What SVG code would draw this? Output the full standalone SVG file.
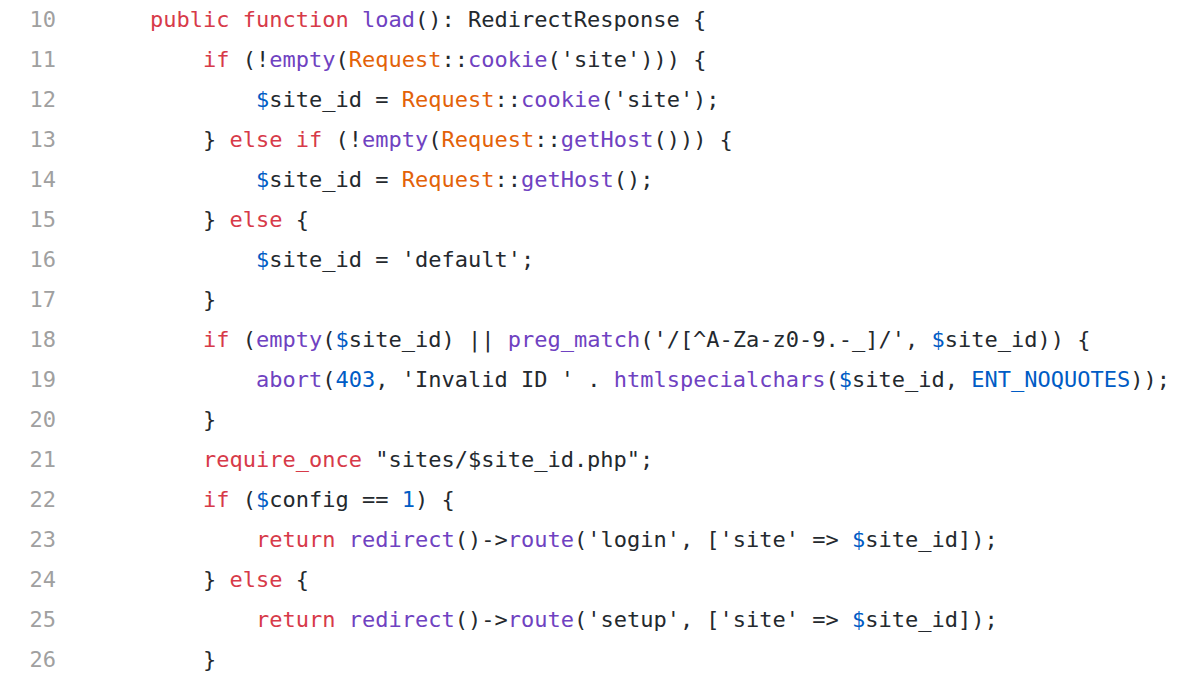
<svg xmlns="http://www.w3.org/2000/svg" width="1200" height="675" viewBox="0 0 1200 675">
<style>
text{font-family:"DejaVu Sans Mono","Liberation Mono",monospace;font-size:22px;fill:#24292e;white-space:pre}
.n{fill:#a0a0a0;text-anchor:end}
.k{fill:#d73a49}.f{fill:#6f42c1}.c{fill:#e36209}.v{fill:#005cc5}
</style>
<rect width="1200" height="675" fill="#ffffff"/>
<g id="gutter">
<text class="n" x="56" y="27">10</text><text class="n" x="56" y="67">11</text><text class="n" x="56" y="107">12</text><text class="n" x="56" y="147">13</text><text class="n" x="56" y="187">14</text><text class="n" x="56" y="227">15</text><text class="n" x="56" y="267">16</text><text class="n" x="56" y="307">17</text><text class="n" x="56" y="347">18</text><text class="n" x="56" y="387">19</text><text class="n" x="56" y="427">20</text><text class="n" x="56" y="467">21</text><text class="n" x="56" y="507">22</text><text class="n" x="56" y="547">23</text><text class="n" x="56" y="587">24</text><text class="n" x="56" y="627">25</text><text class="n" x="56" y="667">26</text>
</g>
<g id="code">
<text x="150" y="27"><tspan class="k">public function</tspan> <tspan class="f">load</tspan>(): RedirectResponse {</text>
<text x="203" y="67"><tspan class="k">if</tspan> (!<tspan class="f">empty</tspan>(<tspan class="c">Request</tspan>::<tspan class="f">cookie</tspan>('site'))) {</text>
<text x="256" y="107"><tspan class="v">$</tspan>site_id = <tspan class="c">Request</tspan>::<tspan class="f">cookie</tspan>('site');</text>
<text x="203" y="147">} <tspan class="k">else if</tspan> (!<tspan class="f">empty</tspan>(<tspan class="c">Request</tspan>::<tspan class="f">getHost</tspan>())) {</text>
<text x="256" y="187"><tspan class="v">$</tspan>site_id = <tspan class="c">Request</tspan>::<tspan class="f">getHost</tspan>();</text>
<text x="203" y="227">} <tspan class="k">else</tspan> {</text>
<text x="256" y="267"><tspan class="v">$</tspan>site_id = 'default';</text>
<text x="203" y="307">}</text>
<text x="203" y="347"><tspan class="k">if</tspan> (<tspan class="f">empty</tspan>(<tspan class="v">$</tspan>site_id) || <tspan class="f">preg_match</tspan>('/[^A-Za-z0-9.-_]/', <tspan class="v">$</tspan>site_id)) {</text>
<text x="256" y="387"><tspan class="f">abort</tspan>(<tspan class="v">403</tspan>, 'Invalid ID ' . <tspan class="f">htmlspecialchars</tspan>(<tspan class="v">$</tspan>site_id, <tspan class="v">ENT_NOQUOTES</tspan>));</text>
<text x="203" y="427">}</text>
<text x="203" y="467"><tspan class="k">require_once</tspan> "sites/$site_id.php";</text>
<text x="203" y="507"><tspan class="k">if</tspan> (<tspan class="v">$</tspan>config == <tspan class="v">1</tspan>) {</text>
<text x="256" y="547"><tspan class="k">return</tspan> <tspan class="f">redirect</tspan>()-&gt;<tspan class="f">route</tspan>('login', ['site' =&gt; <tspan class="v">$</tspan>site_id]);</text>
<text x="203" y="587">} <tspan class="k">else</tspan> {</text>
<text x="256" y="627"><tspan class="k">return</tspan> <tspan class="f">redirect</tspan>()-&gt;<tspan class="f">route</tspan>('setup', ['site' =&gt; <tspan class="v">$</tspan>site_id]);</text>
<text x="203" y="667">}</text>
</g>
</svg>
